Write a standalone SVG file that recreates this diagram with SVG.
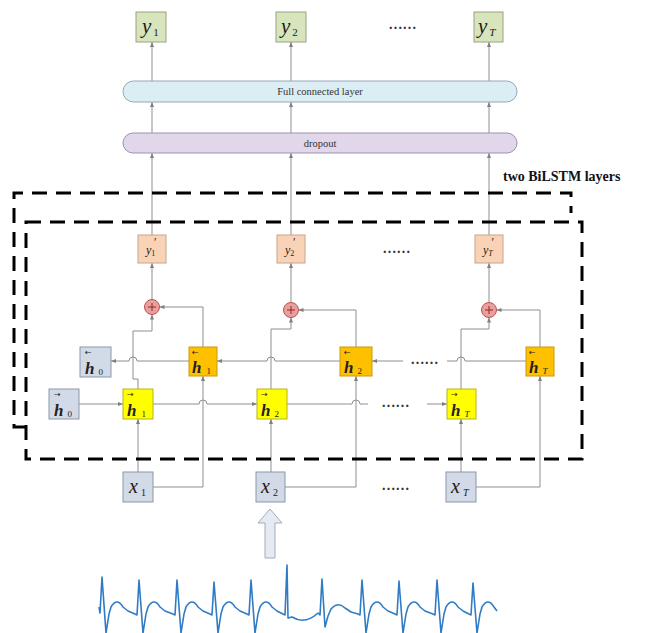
<svg xmlns="http://www.w3.org/2000/svg" width="651" height="633" viewBox="0 0 651 633">
<style>
.bg{fill:#ffffff}
.ybox{fill:#d7e4bc;stroke:#98a486;stroke-width:1}
.ypbox{fill:#fad3b6;stroke:#c4a58e;stroke-width:1}
.gbox{fill:#d2dae7;stroke:#8a97ab;stroke-width:1}
.obox{fill:#ffc000;stroke:#c99a10;stroke-width:1}
.ybx{fill:#ffff00;stroke:#b5b520;stroke-width:1}
.fc{fill:#dbeef4;stroke:#97a6b8;stroke-width:1}
.dp{fill:#e2d7ea;stroke:#9d93ad;stroke-width:1}
.plus{fill:#e6a19e;stroke:#c0504d;stroke-width:1}
.conn{fill:none;stroke:#8f8f8f;stroke-width:1}
.dash{fill:none;stroke:#000;stroke-width:3;stroke-dasharray:15 9}
.m{font-family:"Liberation Serif","Times New Roman",serif;font-style:italic;fill:#1a1a1a}
.sub{font-style:normal}
.hl{font-family:"Liberation Serif","Times New Roman",serif;font-style:italic;font-weight:bold;font-size:17px;fill:#222}
.arr{font-family:"DejaVu Sans",sans-serif;font-size:8px;fill:#222}
.lab{font-family:"Liberation Serif","Times New Roman",serif;font-size:10.5px;fill:#333;text-anchor:middle}
.dots{font-family:"Liberation Serif","Times New Roman",serif;font-size:14px;font-weight:bold;fill:#333;letter-spacing:1.2px}
.title{font-family:"Liberation Serif","Times New Roman",serif;font-size:14px;font-weight:bold;fill:#111}
</style>
<defs>
<marker id="a" viewBox="0 0 10 10" refX="10" refY="5" markerWidth="5" markerHeight="5" markerUnits="userSpaceOnUse" orient="auto">
<path d="M0,1 L10,5 L0,9 z" fill="#7f7f7f"/>
</marker>
</defs>
<rect class="bg" x="0" y="0" width="651" height="633"/>

<g id="connectors">
<path class="conn" marker-end="url(#a)" d="M152,81 V42"/>
<path class="conn" marker-end="url(#a)" d="M291,81 V42"/>
<path class="conn" marker-end="url(#a)" d="M489,81 V42"/>
<path class="conn" marker-end="url(#a)" d="M152,133 V102"/>
<path class="conn" marker-end="url(#a)" d="M291,133 V102"/>
<path class="conn" marker-end="url(#a)" d="M489,133 V102"/>
<path class="conn" marker-end="url(#a)" d="M152,235 V153"/>
<path class="conn" marker-end="url(#a)" d="M291,235 V153"/>
<path class="conn" marker-end="url(#a)" d="M489,235 V153"/>
<path class="conn" marker-end="url(#a)" d="M152,299.5 V263"/>
<path class="conn" marker-end="url(#a)" d="M291,302.5 V263"/>
<path class="conn" marker-end="url(#a)" d="M489,302.5 V263"/>
<path class="conn" marker-end="url(#a)" d="M138,472 V419"/>
<path class="conn" marker-end="url(#a)" d="M153,487 H203 V376"/>
<path class="conn" marker-end="url(#a)" d="M138,389 V379 H133 V331 H152 V314.5"/>
<path class="conn" marker-end="url(#a)" d="M203,347 V307 H159.5"/>
<path class="conn" marker-end="url(#a)" d="M79,404 H123"/>
<path class="conn" marker-end="url(#a)" d="M153,404 H199 A4,4 0 0 1 207,404 H257"/>
<path class="conn" marker-end="url(#a)" d="M189,361 H137 A4,4 0 0 0 129,361 H111"/>
<path class="conn" marker-end="url(#a)" d="M271,472 V419"/>
<path class="conn" marker-end="url(#a)" d="M285,487 H356 V376"/>
<path class="conn" marker-end="url(#a)" d="M271,389 V329 H291 V317.5"/>
<path class="conn" marker-end="url(#a)" d="M356,347 V310 H298.5"/>
<path class="conn" marker-end="url(#a)" d="M340,361 H275 A4,4 0 0 0 267,361 H217"/>
<path class="conn" d="M287,404 H352 A4,4 0 0 1 360,404 H368"/>
<path class="conn" marker-end="url(#a)" d="M427,404 H447"/>
<path class="conn" marker-end="url(#a)" d="M403,361 H372"/>
<path class="conn" marker-end="url(#a)" d="M461,472 V419"/>
<path class="conn" marker-end="url(#a)" d="M476,487 H540 V376"/>
<path class="conn" marker-end="url(#a)" d="M461,389 V329 H489 V317.5"/>
<path class="conn" marker-end="url(#a)" d="M540,347 V310 H496.5"/>
<path class="conn" d="M526,361 H465 A4,4 0 0 0 457,361 H447"/>
</g>

<g id="layers">
<path class="dash" d="M26,427 H14 V193 H571 V213"/>
<rect class="dash" x="26" y="222" width="556" height="237"/>
<text class="title" x="503" y="181">two BiLSTM layers</text>
</g>

<g id="y1"><rect class="ybox" x="136" y="12" width="30" height="30"/><text class="m" x="142" y="33" font-size="21">y<tspan class="sub" font-size="11" dx="2" dy="3">1</tspan></text></g>
<g id="y2"><rect class="ybox" x="276" y="12" width="30" height="30"/><text class="m" x="281" y="33" font-size="21">y<tspan class="sub" font-size="11" dx="2" dy="3">2</tspan></text></g>
<g id="yT"><rect class="ybox" x="474" y="12" width="29" height="30"/><text class="m" x="478" y="33" font-size="21">y<tspan font-size="11" dx="2" dy="3">T</tspan></text></g>
<g id="dots-top"><text class="dots" x="389" y="29">......</text></g>

<g id="fc"><rect class="fc" x="123" y="81" width="394" height="21" rx="10.5"/><text class="lab" x="320" y="95">Full connected layer</text></g>
<g id="dropout"><rect class="dp" x="123" y="133" width="394" height="20" rx="10"/><text class="lab" x="320" y="147">dropout</text></g>

<g id="yp1"><rect class="ypbox" x="138" y="235" width="28" height="28"/><text class="m" x="146" y="254" font-size="12">y<tspan font-size="8" class="sub" dy="2">1</tspan><tspan font-size="12" dx="-2" dy="-10">′</tspan></text></g>
<g id="yp2"><rect class="ypbox" x="277" y="235" width="28" height="28"/><text class="m" x="285" y="254" font-size="12">y<tspan font-size="8" class="sub" dy="2">2</tspan><tspan font-size="12" dx="-2" dy="-10">′</tspan></text></g>
<g id="ypT"><rect class="ypbox" x="475" y="235" width="28" height="28"/><text class="m" x="483" y="254" font-size="12">y<tspan font-size="8" dy="2">T</tspan><tspan font-size="12" dx="-2" dy="-10">′</tspan></text></g>
<g id="dots-yp"><text class="dots" x="383" y="253">......</text></g>

<g id="plus1"><circle class="plus" cx="152" cy="307" r="7.5"/><path d="M148,307 H156 M152,303 V311" stroke="#a02020" stroke-width="1" fill="none"/></g>
<g id="plus2"><circle class="plus" cx="291" cy="310" r="7.5"/><path d="M287,310 H295 M291,306 V314" stroke="#a02020" stroke-width="1" fill="none"/></g>
<g id="plusT"><circle class="plus" cx="489" cy="310" r="7.5"/><path d="M485,310 H493 M489,306 V314" stroke="#a02020" stroke-width="1" fill="none"/></g>

<g id="hb0"><rect class="gbox" x="80" y="347" width="31" height="30"/><text class="arr" x="85" y="355">←</text><text class="hl" x="85" y="374">h<tspan class="sub" font-weight="normal" font-size="9" dx="4" dy="1">0</tspan></text></g>
<g id="hb1"><rect class="obox" x="189" y="347" width="28" height="29"/><text class="arr" x="192" y="355">←</text><text class="hl" x="192" y="373">h<tspan class="sub" font-weight="normal" font-size="9" dx="5" dy="1">1</tspan></text></g>
<g id="hb2"><rect class="obox" x="340" y="347" width="32" height="29"/><text class="arr" x="344" y="355">←</text><text class="hl" x="344" y="373">h<tspan class="sub" font-weight="normal" font-size="9" dx="4" dy="1">2</tspan></text></g>
<g id="hbT"><rect class="obox" x="526" y="347" width="28" height="29"/><text class="arr" x="529" y="355">←</text><text class="hl" x="529" y="373">h<tspan font-weight="normal" font-style="italic" font-size="9" dx="4" dy="1">T</tspan></text></g>
<g id="dots-hb"><text class="dots" x="411" y="364">......</text></g>

<g id="hf0"><rect class="gbox" x="49" y="389" width="30" height="30"/><text class="arr" x="54" y="397">→</text><text class="hl" x="54" y="416">h<tspan class="sub" font-weight="normal" font-size="9" dx="4" dy="1">0</tspan></text></g>
<g id="hf1"><rect class="ybx" x="123" y="389" width="30" height="30"/><text class="arr" x="127" y="397">→</text><text class="hl" x="127" y="416">h<tspan class="sub" font-weight="normal" font-size="9" dx="5" dy="1">1</tspan></text></g>
<g id="hf2"><rect class="ybx" x="257" y="389" width="30" height="30"/><text class="arr" x="261" y="397">→</text><text class="hl" x="261" y="416">h<tspan class="sub" font-weight="normal" font-size="9" dx="4" dy="1">2</tspan></text></g>
<g id="hfT"><rect class="ybx" x="447" y="389" width="29" height="30"/><text class="arr" x="451" y="397">→</text><text class="hl" x="451" y="416">h<tspan font-weight="normal" font-style="italic" font-size="9" dx="4" dy="1">T</tspan></text></g>
<g id="dots-hf"><text class="dots" x="382" y="407">......</text></g>

<g id="x1"><rect class="gbox" x="123" y="472" width="30" height="30"/><text class="m" x="129" y="493" font-size="20">x<tspan class="sub" font-size="10" dx="3" dy="3">1</tspan></text></g>
<g id="x2"><rect class="gbox" x="256" y="472" width="29" height="30"/><text class="m" x="261" y="493" font-size="20">x<tspan class="sub" font-size="10" dx="3" dy="3">2</tspan></text></g>
<g id="xT"><rect class="gbox" x="446" y="472" width="30" height="30"/><text class="m" x="451" y="493" font-size="20">x<tspan font-size="10" dx="3" dy="3">T</tspan></text></g>
<g id="dots-x"><text class="dots" x="382" y="490">......</text></g>

<g id="input-arrow"><polygon points="270,509 282,523 275,523 275,558 265,558 265,523 258,523" fill="#e6eaf2" stroke="#a3abba" stroke-width="1"/></g>

<g id="ecg"><path fill="none" stroke="#2f7cc4" stroke-width="1.6" stroke-linejoin="round" d="M99,607 L100,613 L102,577 L106,633 L109,614 L111,607 Q117,597 123,607 L128,611 L135,614 L137,615 L139,580 L143,633 L146,614 L148,607 Q154,597 160,607 L165,611 L173,614 L175,615 L177,580 L181,633 L184,614 L186,607 Q192,597 198,607 L203,611 L210,614 L212,615 L214,582 L218,633 L221,614 L223,607 Q229,597 235,607 L240,611 L247,614 L249,615 L251,580 L255,633 L258,614 L260,607 Q266,597 272,607 L277,611 L283,614 L285,615 L287,565 L288,618 L292,617 Q305,625 318,613 L320,615 L322,579 L325,627 L328,616 L331,609 Q338,601 345,608 L351,612 L358,614 L360,615 L362,580 L366,633 L369,614 L371,607 Q377,597 383,607 L388,611 L395,614 L397,615 L399,581 L403,633 L406,614 L408,607 Q414,597 420,607 L425,611 L433,614 L435,615 L437,580 L441,633 L444,614 L446,607 Q452,597 458,607 L463,611 L469,614 L471,615 L473,583 L477,633 L480,614 L482,607 Q488,597 494,607 L497,611"/></g>
</svg>
